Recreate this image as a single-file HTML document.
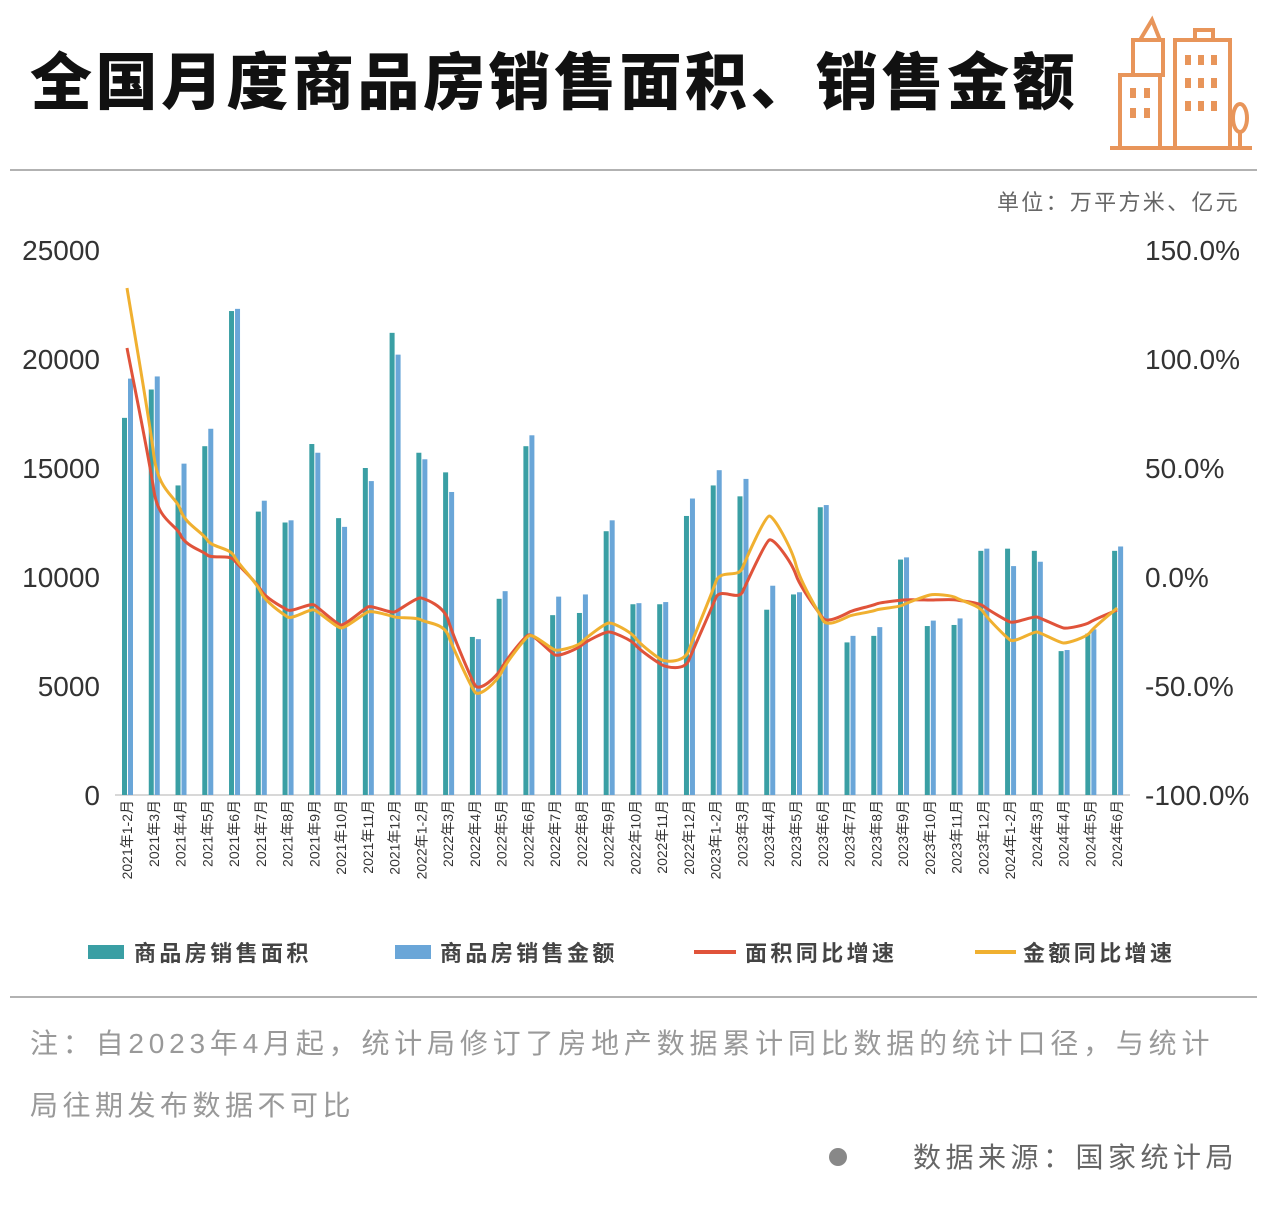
<!DOCTYPE html>
<html><head><meta charset="utf-8">
<style>
body{margin:0;background:#fff;}
#c{position:relative;width:1267px;height:1216px;overflow:hidden;font-family:"Liberation Sans","Noto Sans CJK SC",sans-serif;}
</style></head>
<body><div id="c">
<svg id="s" width="1267" height="1216" xmlns="http://www.w3.org/2000/svg" style="position:absolute;left:0;top:0">
<text x="30" y="104" font-size="62" font-weight="900" fill="#111" letter-spacing="3.5" font-family="Noto Sans CJK SC,sans-serif">全国月度商品房销售面积、销售金额</text>
<g fill="none" stroke="#e8955a" stroke-width="4">
<rect x="1120" y="75" width="40" height="73"/><rect x="1133" y="40" width="30" height="35"/><path d="M1140 40 L1152 20 L1160 40"/>
<rect x="1175" y="40" width="55" height="108"/><rect x="1195" y="30" width="18" height="10"/>
<line x1="1110" y1="148" x2="1252" y2="148"/><ellipse cx="1240" cy="118" rx="7" ry="14"/><line x1="1240" y1="130" x2="1240" y2="148"/>
</g>
<g fill="#e8955a"><rect x="1130" y="88" width="6" height="10"/><rect x="1144" y="88" width="6" height="10"/><rect x="1130" y="108" width="6" height="10"/><rect x="1144" y="108" width="6" height="10"/>
<rect x="1185" y="55" width="6" height="10"/><rect x="1198" y="55" width="6" height="10"/><rect x="1211" y="55" width="6" height="10"/>
<rect x="1185" y="78" width="6" height="10"/><rect x="1198" y="78" width="6" height="10"/><rect x="1211" y="78" width="6" height="10"/>
<rect x="1185" y="101" width="6" height="10"/><rect x="1198" y="101" width="6" height="10"/><rect x="1211" y="101" width="6" height="10"/></g>
<line x1="10" y1="170" x2="1257" y2="170" stroke="#999" stroke-width="1.5"/>
<line x1="10" y1="997" x2="1257" y2="997" stroke="#999" stroke-width="1.5"/>
<text x="1240" y="210" text-anchor="end" font-size="22" fill="#666" letter-spacing="2.3">单位：万平方米、亿元</text>
<line x1="115" y1="795" x2="1130" y2="795" stroke="#ccc" stroke-width="1.5"/>
<g id="bars"></g><g id="lines"></g><g id="xl" font-size="14" fill="#333"></g>
<g font-size="28" fill="#333" text-anchor="end">
<text x="100" y="260">25000</text><text x="100" y="369">20000</text><text x="100" y="478">15000</text><text x="100" y="587">10000</text><text x="100" y="696">5000</text><text x="100" y="805">0</text></g>
<g font-size="28" fill="#333">
<text x="1145" y="260">150.0%</text><text x="1145" y="369">100.0%</text><text x="1145" y="478">50.0%</text><text x="1145" y="587">0.0%</text><text x="1145" y="696">-50.0%</text><text x="1145" y="805">-100.0%</text></g>
<g font-size="22" font-weight="bold" fill="#444" letter-spacing="3.4">
<rect x="88" y="945" width="36" height="14" fill="#3a9fa4"/><text x="134" y="961">商品房销售面积</text>
<rect x="395" y="945" width="36" height="14" fill="#6aa6d8"/><text x="440" y="961">商品房销售金额</text>
<line x1="694" y1="952" x2="736" y2="952" stroke="#e0533a" stroke-width="4"/><text x="745" y="961">面积同比增速</text>
<line x1="975" y1="952" x2="1016" y2="952" stroke="#f0b030" stroke-width="4"/><text x="1023" y="961">金额同比增速</text></g>
<g font-size="28" fill="#999"><text x="30" y="1053" letter-spacing="4.8">注：自2023年4月起，统计局修订了房地产数据累计同比数据的统计口径，与统计</text>
<text x="30" y="1115" letter-spacing="4.5">局往期发布数据不可比</text></g>
<circle cx="838" cy="1157" r="9" fill="#888"/>
<text x="1238" y="1167" text-anchor="end" font-size="28" fill="#666" letter-spacing="4.5">数据来源：国家统计局</text>
</svg>
<script>
var A=[17.3,18.6,14.2,16.0,22.2,13.0,12.5,16.1,12.7,15.0,21.2,15.7,14.8,7.25,9.0,16.0,8.25,8.35,12.1,8.75,8.75,12.8,14.2,13.7,8.5,9.2,13.2,7.0,7.3,10.8,7.75,7.8,11.2,11.3,11.2,6.6,7.4,11.2];
var B=[19.1,19.2,15.2,16.8,22.3,13.5,12.6,15.7,12.3,14.4,20.2,15.4,13.9,7.15,9.35,16.5,9.1,9.2,12.6,8.8,8.85,13.6,14.9,14.5,9.6,9.3,13.3,7.3,7.7,10.9,8.0,8.1,11.3,10.5,10.7,6.65,7.6,11.4];
var R=[348,490,535,555,560,590,610,605,625,607,612,598,620,685,668,635,655,645,632,645,665,660,598,592,540,575,618,612,604,600,600,600,606,622,617,628,622,610];
var Y=[288,455,510,540,556,592,617,610,628,612,617,620,635,692,672,636,650,642,623,638,660,650,582,568,516,565,620,616,610,605,595,598,612,640,632,643,632,608];
var L=[];var m=['1-2','3','4','5','6','7','8','9','10','11','12'];
for(var y=2021;y<=2024;y++)for(var i=0;i<(y==2024?5:11);i++)L.push(y+'年'+m[i]+'月');
var ns='http://www.w3.org/2000/svg',bars=document.getElementById('bars'),xl=document.getElementById('xl');
function X(i){return 127+i*26.76;}
function el(t,a,p){var e=document.createElementNS(ns,t);for(var k in a)e.setAttribute(k,a[k]);p.appendChild(e);return e;}
for(var i=0;i<38;i++){var x=X(i);
el('rect',{x:x-5,y:795-A[i]*21.8,width:5,height:A[i]*21.8,fill:'#3a9fa4'},bars);
el('rect',{x:x+1,y:795-B[i]*21.8,width:5,height:B[i]*21.8,fill:'#6aa6d8'},bars);
var t=el('text',{x:0,y:0,'text-anchor':'end',transform:'translate('+(x+5)+',800) rotate(-90)'},xl);t.textContent=L[i];}
function path(v){var p='M'+X(0)+' '+v[0];for(var i=0;i<v.length-1;i++){var p0=v[Math.max(i-1,0)],p3=v[Math.min(i+2,v.length-1)];
var x1=X(i),x2=X(i+1),d=26.76/6;p+=' C'+(x1+d)+' '+(v[i]+(v[i+1]-p0)/6)+' '+(x2-d)+' '+(v[i+1]-(p3-v[i])/6)+' '+x2+' '+v[i+1];}return p;}
var lg=document.getElementById('lines');
el('path',{d:path(R),fill:'none',stroke:'#e0533a','stroke-width':3},lg);
el('path',{d:path(Y),fill:'none',stroke:'#f0b030','stroke-width':3},lg);
</script>
</div></body></html>
